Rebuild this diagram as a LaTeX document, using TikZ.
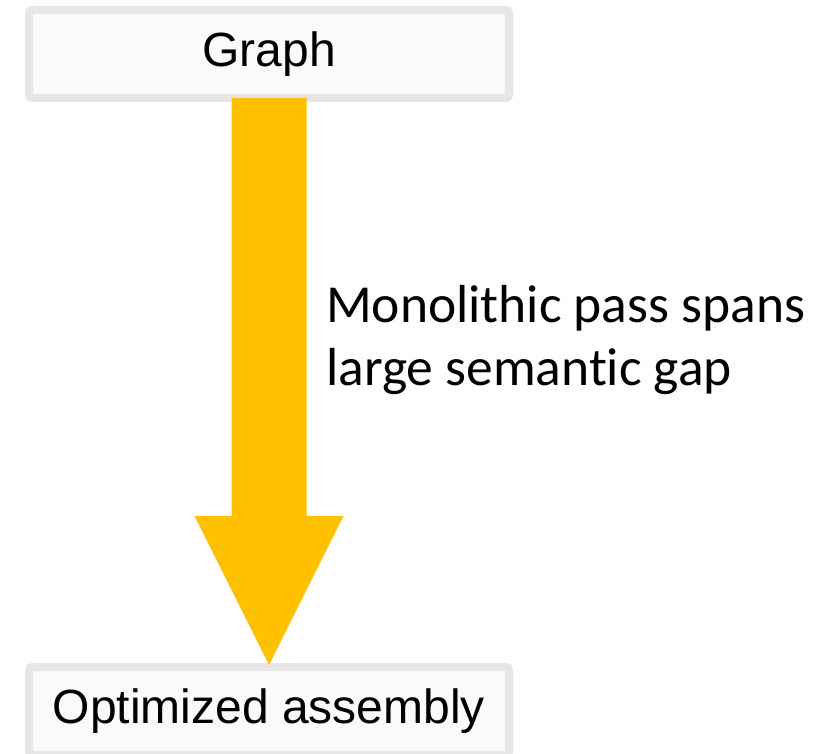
\documentclass[tikz,border=0pt]{standalone}
\usepackage{fontspec}
\setmainfont{Liberation Sans}
\newfontfamily\calib[RawFeature={-liga}]{Carlito}
\usetikzlibrary{calc}
\definecolor{boxborder}{HTML}{E6E6E6}
\definecolor{boxfill}{HTML}{FAFAFA}
\definecolor{arrowcol}{HTML}{FFC000}
\begin{document}
\begin{tikzpicture}[x=1pt,y=-1pt,
  box/.style={draw=boxborder, fill=boxfill, line width=8pt, rounded corners=3pt,
    minimum width=480pt, minimum height=88pt, inner sep=0pt,
    font=\fontsize{48}{54}\selectfont},
  lbl/.style={font=\calib\fontsize{53.5}{63}\selectfont, align=left, inner sep=0pt}]
\useasboundingbox (0,0) rectangle (833,754);
\node[box] (gtop) at (269,54) {Graph};
\node[box] (gbot) at (269,711) {Optimized assembly};
\coordinate (start) at ($(gtop.south)+(0,-4)$);
\coordinate (tip) at ($(gbot.north)+(0,2)$);
\fill[arrowcol] ($(start)+(-37.5,0)$) -- ($(tip)+(-37.5,-149)$) -- ($(tip)+(-74.5,-149)$)
  -- (tip) -- ($(tip)+(74.5,-149)$) -- ($(tip)+(37.5,-149)$) -- ($(start)+(37.5,0)$) -- cycle;
\node[lbl, anchor=base west] (note) at (326,385) {Monolithic pass spans\\large semantic gap};
\end{tikzpicture}
\end{document}
